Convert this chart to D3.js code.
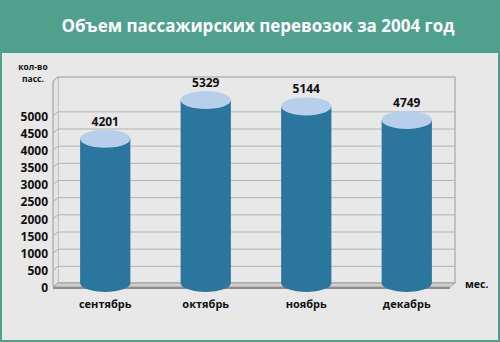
<!DOCTYPE html>
<html>
<head>
<meta charset="utf-8">
<script src="https://cdn.jsdelivr.net/npm/d3@7"></script>
<style>
  html, body { margin: 0; padding: 0; background: #4fa18c; }
  svg { display: block; }
  text { font-family: "Open Sans", "DejaVu Sans", sans-serif; font-weight: 700; }
</style>
</head>
<body>
<div id="chart"></div>
<script>
// Данные
const months = ['сентябрь', 'октябрь', 'ноябрь', 'декабрь'];
const passengers = [4201, 5329, 5144, 4749];
const yTicks = [0, 500, 1000, 1500, 2000, 2500, 3000, 3500, 4000, 4500, 5000];
const title = 'Объем пассажирских перевозок за 2004 год';

const width = 500, height = 342;
const depth = { dx: 5, dy: -4 }; // смещение задней стенки

const svg = d3.select('#chart').append('svg')
  .attr('width', width)
  .attr('height', height);

// Фон
svg.append('rect').attr('width', width).attr('height', height).attr('fill', '#4fa18c');
svg.append('rect')
  .attr('x', 2).attr('y', 53).attr('width', 496).attr('height', 287)
  .attr('fill', '#e8e8e8');

// Заголовок
svg.append('text')
  .attr('x', 258).attr('y', 32)
  .attr('text-anchor', 'middle')
  .attr('font-size', '17px')
  .attr('fill', '#fff')
  .text(title);

// Шкалы (по задней стенке)
const x = d3.scaleBand()
  .domain(months)
  .range([55, 457])
  .paddingInner(0.5)
  .paddingOuter(0.25);

const y = d3.scaleLinear()
  .domain([0, 6000])
  .range([283, 77]);

const wallLeft = 58, wallRight = 455;
const wallStroke = '#9a9a9a';

// Задняя стенка
svg.append('rect')
  .attr('x', wallLeft).attr('y', y(6000))
  .attr('width', wallRight - wallLeft).attr('height', y(0) - y(6000))
  .attr('fill', '#e8e8e8')
  .attr('stroke', wallStroke).attr('stroke-width', 1);

// Боковая стенка
svg.append('path')
  .attr('d', `M${wallLeft},${y(6000)} L${wallLeft - depth.dx},${y(6000) - depth.dy} L${wallLeft - depth.dx},${y(0) - depth.dy} L${wallLeft},${y(0)}`)
  .attr('fill', '#e4e4e4')
  .attr('stroke', wallStroke).attr('stroke-width', 1);

// Сетка
const grid = svg.append('g');
yTicks.filter(d => d > 0).forEach(t => {
  grid.append('line')
    .attr('x1', wallLeft).attr('x2', wallRight)
    .attr('y1', y(t) + 0.5).attr('y2', y(t) + 0.5)
    .attr('stroke', '#b4b4b4');
  grid.append('line')
    .attr('x1', wallLeft - depth.dx).attr('x2', wallLeft)
    .attr('y1', y(t) - depth.dy + 0.5).attr('y2', y(t) + 0.5)
    .attr('stroke', '#a8a8a8');
});

// Пол
svg.append('path')
  .attr('d', `M${wallLeft},${y(0)} L${wallRight},${y(0)} L${wallRight - depth.dx},${y(0) - depth.dy} L${wallLeft - depth.dx},${y(0) - depth.dy} Z`)
  .attr('fill', '#cfcfcf')
  .attr('stroke', wallStroke).attr('stroke-width', 0.8);
svg.append('rect')
  .attr('x', wallLeft - depth.dx).attr('y', y(0) - depth.dy)
  .attr('width', wallRight - wallLeft).attr('height', 2)
  .attr('fill', '#8e8e8e');

// Подписи оси Y
svg.append('g')
  .selectAll('text')
  .data(yTicks)
  .enter()
  .append('text')
  .attr('x', 48)
  .attr('y', d => y(d) - depth.dy + 1)
  .attr('dy', '0.35em')
  .attr('text-anchor', 'end')
  .attr('font-size', '12px')
  .attr('fill', '#111')
  .text(d => d);

svg.append('text')
  .attr('x', 33).attr('y', 70)
  .attr('text-anchor', 'middle')
  .attr('font-size', '8.5px')
  .attr('fill', '#111')
  .text('кол-во');
svg.append('text')
  .attr('x', 33).attr('y', 82)
  .attr('text-anchor', 'middle')
  .attr('font-size', '8.5px')
  .attr('fill', '#111')
  .text('пасс.');

// Цилиндры
const rx = x.bandwidth() / 2, ry = 9;
const bars = svg.selectAll('.bar')
  .data(months.map((m, i) => ({ month: m, value: passengers[i] })))
  .enter()
  .append('g')
  .attr('class', 'bar');

bars.append('rect')
  .attr('x', d => x(d.month))
  .attr('y', d => y(d.value))
  .attr('width', x.bandwidth())
  .attr('height', d => y(0) - y(d.value))
  .attr('fill', '#2b769f');

bars.append('ellipse')
  .attr('cx', d => x(d.month) + rx)
  .attr('cy', y(0))
  .attr('rx', rx).attr('ry', ry)
  .attr('fill', '#2b769f');

bars.append('ellipse')
  .attr('cx', d => x(d.month) + rx)
  .attr('cy', d => y(d.value))
  .attr('rx', rx).attr('ry', ry)
  .attr('fill', '#b8cfeb');

bars.append('text')
  .attr('x', d => x(d.month) + rx)
  .attr('y', d => y(d.value) - ry - 4)
  .attr('text-anchor', 'middle')
  .attr('font-size', '12px')
  .attr('fill', '#111')
  .text(d => d.value);

// Подписи месяцев
svg.append('g')
  .selectAll('text')
  .data(months)
  .enter()
  .append('text')
  .attr('x', d => x(d) + rx)
  .attr('y', 308)
  .attr('text-anchor', 'middle')
  .attr('font-size', '11px')
  .attr('fill', '#111')
  .text(d => d);

svg.append('text')
  .attr('x', 465).attr('y', 288)
  .attr('font-size', '10.5px')
  .attr('fill', '#111')
  .text('мес.');
</script>
</body>
</html>
